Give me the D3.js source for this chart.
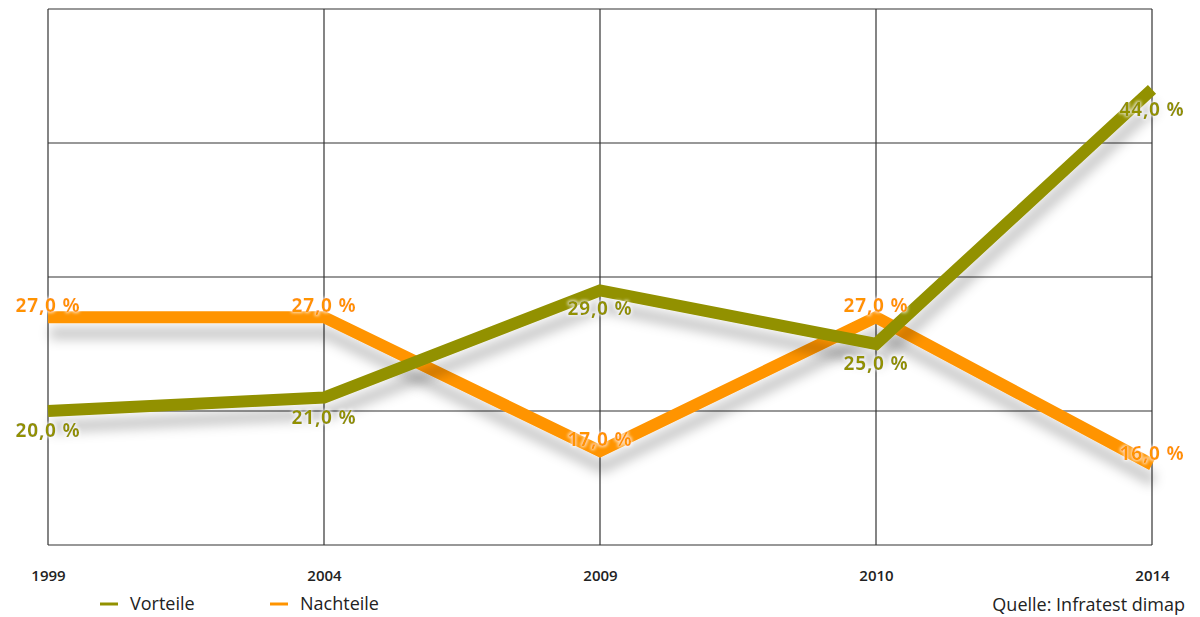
<!DOCTYPE html>
<html><head><meta charset="utf-8">
<script src="https://cdn.jsdelivr.net/npm/d3@7"></script>
<style>body{margin:0;background:#fff;} svg{display:block;}</style>
</head><body>
<svg id="c" width="1200" height="617"></svg>
<script>
const years = ["1999","2004","2009","2010","2014"];
const vorteile = [20, 21, 29, 25, 44];
const nachteile = [27, 27, 17, 27, 16];
const yTicks = [10, 20, 30, 40, 50];
const seriesNames = ["Vorteile","Nachteile"];
const colors = {Vorteile:"#929100", Nachteile:"#ff9400"};
const source = "Quelle: Infratest dimap";

const svg = d3.select("#c");
const m = {l:48, r:48, t:9, b:72};
const W = 1200, H = 617;
const x = d3.scalePoint().domain(years).range([m.l, W-m.r]);
const y = d3.scaleLinear().domain([10,50]).range([H-m.b, m.t]);

const defs = svg.append("defs");
const f = defs.append("filter").attr("id","sh").attr("x","-10%").attr("y","-50%").attr("width","120%").attr("height","200%");
f.append("feDropShadow").attr("dx",2).attr("dy",16).attr("stdDeviation",6).attr("flood-color","#000").attr("flood-opacity",0.22);
const g2 = defs.append("filter").attr("id","glow").attr("x","-20%").attr("y","-50%").attr("width","140%").attr("height","200%");
g2.append("feMorphology").attr("in","SourceAlpha").attr("operator","dilate").attr("radius",1).attr("result","d");
g2.append("feGaussianBlur").attr("in","d").attr("stdDeviation",1.5).attr("result","b");
g2.append("feFlood").attr("flood-color","#fff").attr("flood-opacity",0.7);
g2.append("feComposite").attr("in2","b").attr("operator","in").attr("result","w");
const mg = g2.append("feMerge"); mg.append("feMergeNode").attr("in","w"); mg.append("feMergeNode").attr("in","SourceGraphic");

// grid
const grid = svg.append("g");
grid.selectAll("line.h").data(yTicks).join("line")
  .attr("x1", m.l).attr("x2", W-m.r).attr("y1", d=>y(d)).attr("y2", d=>y(d))
  .attr("stroke","#333").attr("stroke-width",1.2);
grid.selectAll("line.v").data(years).join("line")
  .attr("x1", d=>x(d)).attr("x2", d=>x(d)).attr("y1", y(50)).attr("y2", y(10))
  .attr("stroke","#333").attr("stroke-width",1.2);

// x axis labels
const xa = svg.append("g").attr("transform",`translate(0,${H-m.b})`)
  .call(d3.axisBottom(x).tickSize(0).tickPadding(25));
xa.select(".domain").remove();
xa.selectAll("text").attr("font-family","'Open Sans', sans-serif").attr("font-weight","600")
  .attr("font-size",15).attr("fill","#222");

const line = d3.line().x((d,i)=>x(years[i])).y(d=>y(d));
const data = [{name:"Nachteile", vals:nachteile},{name:"Vorteile", vals:vorteile}];
svg.append("g").selectAll("path").data(data).join("path")
  .attr("d", d=>line(d.vals)).attr("fill","none")
  .attr("stroke", d=>colors[d.name]).attr("stroke-width",12)
  .attr("stroke-linejoin","miter").attr("filter","url(#sh)");

// labels
const fmt = v => v.toFixed(1).replace(".",",") + " %";
const labelOffsets = {
  Vorteile: [26, 26, 25, 26, 27],
  Nachteile: [-5, -5, -5, -5, -5]
};
const lg = svg.append("g").attr("filter","url(#glow)");
data.forEach(s=>{
  lg.selectAll(null).data(s.vals).join("text")
    .attr("x",(d,i)=>x(years[i])).attr("y",(d,i)=>y(d)+labelOffsets[s.name][i])
    .attr("text-anchor","middle").attr("font-family","'Open Sans', sans-serif")
    .attr("font-weight","700").attr("font-size",19).attr("letter-spacing",0.8)
    .attr("fill",colors[s.name])
    .text(d=>fmt(d));
});

// legend
const leg = svg.append("g");
const legX = [100, 270];
seriesNames.forEach((n,i)=>{
  leg.append("line").attr("x1",legX[i]).attr("x2",legX[i]+18).attr("y1",604).attr("y2",604)
    .attr("stroke",colors[n]).attr("stroke-width",3);
  leg.append("text").attr("x",legX[i]+30).attr("y",610).text(n)
    .attr("font-family","'Open Sans', sans-serif").attr("font-size",18).attr("fill","#222");
});
svg.append("text").attr("x",1185).attr("y",611).attr("text-anchor","end").text(source)
  .attr("font-family","'Open Sans', sans-serif").attr("font-size",18).attr("fill","#222");
</script>
</body></html>
